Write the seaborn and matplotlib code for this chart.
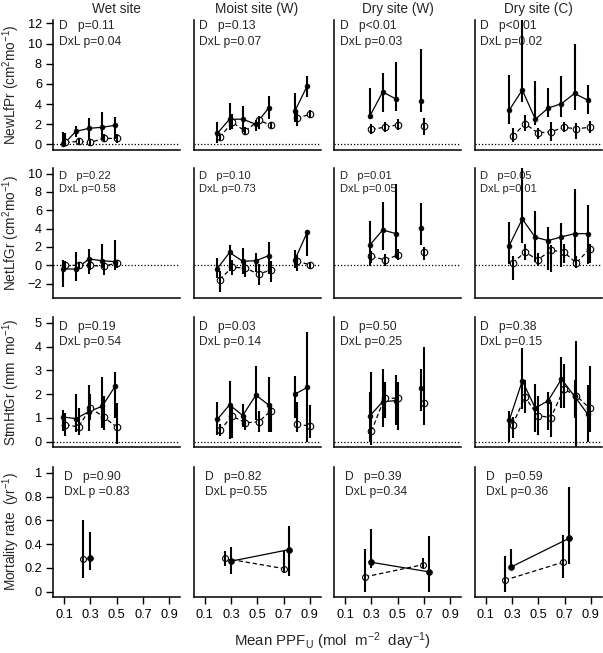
import matplotlib
matplotlib.use("Agg")
import matplotlib.pyplot as plt
import pandas as pd
import seaborn as sns

sites = ["Wet site", "Moist site (W)", "Dry site (W)", "Dry site (C)"]
x_ticks = [0.1, 0.3, 0.5, 0.7, 0.9]

# x positions of the light classes (rows 1-3), filled = one treatment, open = the other
x_filled = [[0.095, 0.19, 0.29, 0.39, 0.49],
            [0.197, 0.29, 0.39, 0.49, 0.586, 0.786, 0.88],
            [0.29, 0.386, 0.488, 0.68],
            [0.28, 0.379, 0.478, 0.576, 0.677, 0.776, 0.875]]
x_open = [[0.11, 0.21, 0.30, 0.40, 0.50],
          [0.216, 0.31, 0.41, 0.51, 0.607, 0.80, 0.905],
          [0.30, 0.40, 0.50, 0.70],
          [0.305, 0.40, 0.497, 0.596, 0.695, 0.79, 0.89]]
# which points are joined by a line
segments = [[0, 0, 0, 0, 0],
            [0, 0, 0, 0, 0, 1, 1],
            [0, 0, 0, 1],
            [0, 0, 0, 0, 0, 0, 0]]

# NewLfPr
lfpr_f = [[0.0, 1.3, 1.6, 1.7, 1.9],
          [1.1, 2.5, 2.5, 2.0, 3.6, 3.3, 5.8],
          [2.85, 5.2, 4.5, 4.3],
          [3.4, 5.4, 2.5, 3.6, 4.05, 5.05, 4.4]]
lfpr_f_lo = [[-0.3, 0.7, 0.4, 0.4, 0.5],
             [0.1, 1.4, 1.2, 1.3, 2.5, 2.2, 4.7],
             [2.5, 3.2, 3.3, 3.2],
             [2.0, 4.2, 1.9, 2.7, 2.7, 3.4, 3.05]]
lfpr_f_hi = [[1.2, 1.8, 2.6, 3.2, 2.7],
             [2.2, 4.1, 3.8, 2.4, 4.8, 5.1, 6.8],
             [5.6, 7.1, 8.2, 9.5],
             [6.9, 12.5, 6.3, 5.6, 6.8, 10.0, 5.9]]
lfpr_o = [[0.2, 0.3, 0.2, 0.6, 0.6],
          [0.7, 2.2, 1.3, 2.4, 1.9, 2.6, 3.0],
          [1.5, 1.7, 1.95, 1.8],
          [0.8, 2.05, 1.15, 1.25, 1.7, 1.55, 1.7]]
lfpr_o_lo = [[-0.2, 0.0, -0.2, 0.2, 0.1],
             [0.4, 1.5, 1.0, 1.5, 1.6, 1.8, 2.6],
             [1.0, 1.2, 1.4, 0.9],
             [0.2, 1.3, 0.5, 0.3, 1.2, 0.5, 1.1]]
lfpr_o_hi = [[1.1, 0.6, 0.5, 1.0, 1.0],
             [1.0, 3.0, 1.7, 2.8, 2.2, 3.3, 3.4],
             [2.0, 2.2, 2.5, 2.6],
             [1.6, 2.9, 1.6, 2.2, 2.2, 2.1, 2.3]]

# NetLfGr
lfgr_f = [[-0.4, -0.4, 0.7, 0.5, 0.4],
          [-0.35, 1.4, 0.45, 0.5, 1.05, 0.6, 3.6],
          [2.25, 3.85, 3.45, 4.05],
          [2.15, 5.05, 3.05, 2.7, 3.1, 3.45, 3.45]]
lfgr_f_lo = [[-2.4, -1.7, -0.9, -0.3, -0.5],
             [-1.4, -0.6, -0.9, -0.7, -0.9, -0.3, 1.0],
             [-0.1, 1.7, 0.8, 2.25],
             [0.1, 2.4, 0.4, -0.5, -0.2, 0.5, 0.1]]
lfgr_f_hi = [[0.6, 1.4, 1.8, 2.3, 2.8],
             [0.8, 2.2, 1.9, 1.3, 2.5, 1.7, 3.9],
             [4.8, 6.9, 8.9, 6.8],
             [4.7, 10.6, 5.9, 4.2, 4.6, 8.3, 6.6]]
lfgr_o = [[0.0, 0.0, 0.0, -0.1, 0.25],
          [-1.55, -0.2, -0.3, -0.95, -0.5, 0.45, 0.05],
          [1.0, 0.6, 1.1, 1.4],
          [0.25, 1.45, 0.6, 1.65, 1.45, 0.25, 1.8]]
lfgr_o_lo = [[-0.5, -0.4, -0.5, -1.1, -0.3],
             [-2.9, -1.0, -1.3, -2.1, -1.8, -0.6, -0.3],
             [0.3, -0.1, 0.6, 0.6],
             [-1.55, 0.6, -0.1, -0.7, 0.3, -0.3, 0.3]]
lfgr_o_hi = [[0.5, 0.4, 0.5, 0.6, 0.6],
             [-0.6, 0.6, 0.5, 0.1, 0.5, 1.1, 0.4],
             [1.6, 1.2, 1.8, 2.0],
             [1.0, 2.3, 1.3, 2.2, 2.3, 1.0, 2.3]]

# StmHtGr
stm_f = [[1.04, 0.97, 1.27, 1.49, 2.35],
         [0.94, 1.55, 1.1, 1.96, 1.55, 2.0, 2.28],
         [1.1, 1.68, 1.73, 2.24],
         [0.9, 2.56, 1.41, 1.73, 2.63, 1.91, 1.17]]
stm_f_lo = [[0.45, 0.4, 0.45, 0.58, 1.0],
            [0.3, 0.1, 0.6, 0.9, 0.4, 1.0, 0.0],
            [0.0, 0.6, 0.7, 1.31],
            [0.0, 1.38, 0.4, 0.5, 1.4, 1.0, 0.0]]
stm_f_hi = [[1.34, 2.0, 2.38, 2.72, 2.93],
            [1.66, 2.56, 1.6, 3.2, 2.72, 2.76, 4.63],
            [2.07, 3.04, 2.8, 3.04],
            [1.31, 3.94, 2.42, 2.07, 3.57, 2.6, 2.38]]
stm_o = [[0.72, 0.62, 1.42, 1.04, 0.62],
         [0.48, 1.08, 0.8, 0.83, 1.31, 0.73, 0.66],
         [0.44, 1.83, 1.83, 1.63],
         [0.72, 1.87, 1.1, 1.01, 2.21, 1.93, 1.41]]
stm_o_lo = [[0.25, 0.27, 0.9, 0.5, -0.1],
            [0.25, 0.14, 0.5, 0.4, 0.4, 0.41, 0.14],
            [-0.14, 1.0, 0.48, 0.69],
            [0.14, 1.2, 0.27, 0.21, 1.4, -0.2, 0.4]]
stm_o_hi = [[1.2, 1.41, 2.0, 1.93, 1.62],
            [0.75, 1.5, 1.1, 1.3, 1.6, 1.66, 1.55],
            [2.93, 2.5, 2.49, 4.0],
            [1.04, 2.6, 1.93, 1.66, 3.25, 4.22, 3.2]]

# Mortality (own x positions)
mort_x_f = [[0.298], [0.298, 0.743], [0.295, 0.739], [0.29, 0.733]]
mort_x_o = [[0.247], [0.252, 0.70], [0.252, 0.693], [0.247, 0.687]]
mort_f = [[0.28], [0.256, 0.354], [0.248, 0.167], [0.206, 0.448]]
mort_f_lo = [[0.18], [0.145, 0.136], [0.2, 0.0], [0.2, 0.23]]
mort_f_hi = [[0.50], [0.38, 0.55], [0.53, 0.47], [0.362, 0.88]]
mort_o = [[0.276], [0.28, 0.195], [0.125, 0.228], [0.097, 0.248]]
mort_o_lo = [[0.117], [0.214, 0.16], [0.0, 0.2], [0.0, 0.117]]
mort_o_hi = [[0.60], [0.34, 0.354], [0.36, 0.284], [0.30, 0.48]]

p_d = [["p=0.11", "p=0.13", "p<0.01", "p<0.01"],
       ["p=0.22", "p=0.10", "p=0.01", "p=0.05"],
       ["p=0.19", "p=0.03", "p=0.50", "p=0.38"],
       ["p=0.90", "p=0.82", "p=0.39", "p=0.59"]]
p_dxl = [["p=0.04", "p=0.07", "p=0.03", "p=0.02"],
         ["p=0.58", "p=0.73", "p=0.05", "p=0.01"],
         ["p=0.54", "p=0.14", "p=0.25", "p=0.15"],
         ["p =0.83", "p=0.55", "p=0.34", "p=0.36"]]

row_labels = ["NewLfPr (cm$^2$mo$^{-1}$)", "NetLfGr (cm$^2$mo$^{-1}$)",
              "StmHtGr (mm  mo$^{-1}$)", "Mortality rate  (yr$^{-1}$)"]
row_ylims = [(-0.5, 12.33), (-3.5, 10.6), (-0.2, 5.24), (-0.04, 1.048)]
row_yticks = [[0, 2, 4, 6, 8, 10, 12], [-2, 0, 2, 4, 6, 8, 10],
              [0, 1, 2, 3, 4, 5], [0, 0.2, 0.4, 0.6, 0.8, 1]]
row_yticklabels = [None, None, None, ["0", "0.2", "0.4", "0.6", "0.8", "1"]]

sns.set_theme(style="ticks")
plt.rcParams['font.family'] = ['Liberation Sans', 'DejaVu Sans']
plt.rcParams['mathtext.default'] = 'regular'


def draw_panel(ax, xf, yf, flo, fhi, xo, yo, olo, ohi, seg, s_f, s_o):
    df_f = pd.DataFrame({"x": xf, "y": yf, "lo": flo, "hi": fhi, "seg": seg})
    df_o = pd.DataFrame({"x": xo, "y": yo, "lo": olo, "hi": ohi, "seg": seg})
    sns.lineplot(data=df_f, x="x", y="y", units="seg", estimator=None, sort=False,
                 color="black", lw=0.9, ax=ax, legend=False, zorder=2)
    sns.lineplot(data=df_o, x="x", y="y", units="seg", estimator=None, sort=False,
                 color="black", lw=0.9, linestyle=(0, (3.5, 2.2)), ax=ax,
                 legend=False, zorder=2)
    sns.scatterplot(data=df_o, x="x", y="y", s=s_o, color="white", edgecolor="black",
                    linewidth=0.8, ax=ax, legend=False, zorder=3)
    ax.vlines(df_f["x"], df_f["lo"], df_f["hi"], color="black", lw=1.5, zorder=4)
    ax.vlines(df_o["x"], df_o["lo"], df_o["hi"], color="black", lw=1.5, zorder=4)
    sns.scatterplot(data=df_f, x="x", y="y", s=s_f, color="black", edgecolor="black",
                    linewidth=0.5, ax=ax, legend=False, zorder=5)


fig = plt.figure(figsize=(6.03, 6.53), dpi=100)
W, H = 603.0, 653.0
row_tops = [20, 168, 317, 467]
text_y = [(0.953, 0.83), (0.94, 0.84), (0.925, 0.81), (0.925, 0.81)]
text_size = [8.7, 8.0, 8.7, 8.7]

rows = [(lfpr_f, lfpr_f_lo, lfpr_f_hi, lfpr_o, lfpr_o_lo, lfpr_o_hi),
        (lfgr_f, lfgr_f_lo, lfgr_f_hi, lfgr_o, lfgr_o_lo, lfgr_o_hi),
        (stm_f, stm_f_lo, stm_f_hi, stm_o, stm_o_lo, stm_o_hi)]

for r in range(4):
    for c in range(4):
        left = 53 + 140.5 * c
        top = row_tops[r]
        ax = fig.add_axes([left / W, 1 - (top + 129.5) / H, 127 / W, 129.5 / H])
        if r < 3:
            f, flo, fhi, o, olo, ohi = rows[r]
            draw_panel(ax, x_filled[c], f[c], flo[c], fhi[c], x_open[c], o[c],
                       olo[c], ohi[c], segments[c], 12, 22)
            ax.axhline(0, color="black", lw=0.9, ls=(0, (1, 1.6)), zorder=1)
        else:
            draw_panel(ax, mort_x_f[c], mort_f[c], mort_f_lo[c], mort_f_hi[c],
                       mort_x_o[c], mort_o[c], mort_o_lo[c], mort_o_hi[c],
                       [0] * len(mort_f[c]), 18, 18)
        ax.set_xlim(0.016, 0.981)
        ax.set_ylim(*row_ylims[r])
        ax.set_xlabel("")
        ax.set_ylabel("")
        sns.despine(ax=ax)
        for sp in ("left", "bottom"):
            ax.spines[sp].set_linewidth(1.1)
            ax.spines[sp].set_color("black")
        ax.tick_params(colors="black", width=1.0, length=5, labelsize=9.2)
        if r == 3:
            ax.set_xticks(x_ticks)
            ax.set_xticklabels([str(v) for v in x_ticks])
            ax.tick_params(axis="x", pad=4)
        else:
            ax.tick_params(axis="x", bottom=False, labelbottom=False)
        if c == 0:
            ax.set_yticks(row_yticks[r])
            if row_yticklabels[r] is not None:
                ax.set_yticklabels(row_yticklabels[r])
            ax.tick_params(axis="y", pad=3)
        else:
            ax.tick_params(axis="y", left=False, labelleft=False)
        tx = 0.087 if r == 3 else 0.047
        ax.text(tx, text_y[r][0], "D   " + p_d[r][c], transform=ax.transAxes,
                fontsize=text_size[r], va="center", ha="left")
        ax.text(tx, text_y[r][1], "DxL " + p_dxl[r][c], transform=ax.transAxes,
                fontsize=text_size[r], va="center", ha="left")
        if r == 0:
            ax.set_title(sites[c], fontsize=9.8, pad=5)
    fig.text(11.5 / W, 1 - (row_tops[r] + 64.75) / H, row_labels[r], rotation=90,
             ha="center", va="center", fontsize=9.8)

fig.text(332 / W, 1 - 641 / H, "Mean PPF$_U$ (mol  m$^{-2}$  day$^{-1}$)",
         ha="center", va="center", fontsize=10.8)

fig.savefig("out.png", dpi=100)
